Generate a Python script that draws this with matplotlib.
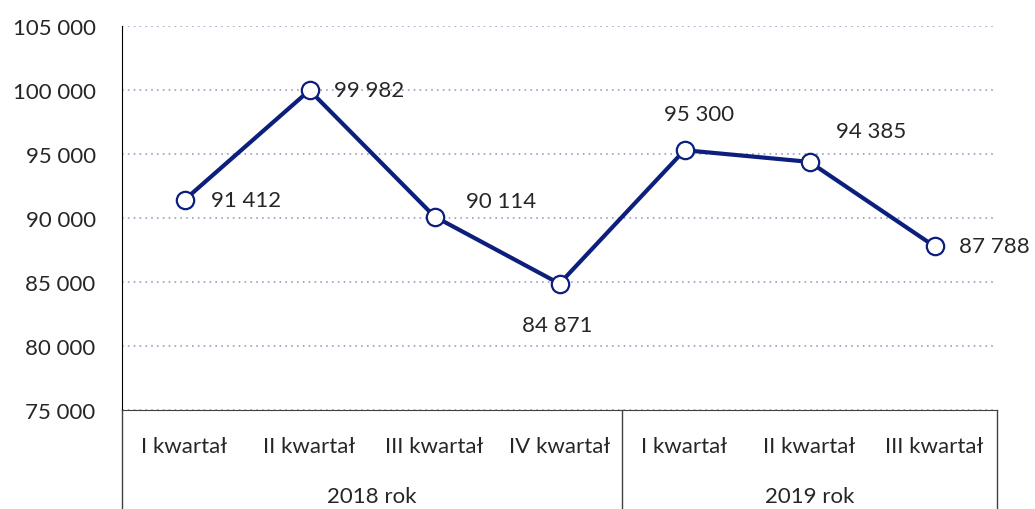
import matplotlib.pyplot as plt
import numpy as np

plt.rcParams['font.family'] = ['Lato', 'DejaVu Sans']

kwartaly = ['I kwartał', 'II kwartał', 'III kwartał', 'IV kwartał',
            'I kwartał', 'II kwartał', 'III kwartał']
lata = ['2018 rok', '2019 rok']
wartosci = [91412, 99982, 90114, 84871, 95300, 94385, 87788]
# przesuniecie etykiet (piksele)
offsety = [(62, 0), (60, 0), (67, 16), (-2, -41), (15, 36), (62, 31), (60, 0)]

granat = '#0c1f7c'
tekst = '#262626'

def fmt(v):
    return '{:,}'.format(v).replace(',', '\u00a0')

fig = plt.figure(figsize=(10.35, 5.10), dpi=100)
ax = fig.add_axes([0.1179, 0.1941, 0.8454, 0.7529])

x = np.arange(len(wartosci))
ax.plot(x, wartosci, color=granat, lw=3, marker='o', ms=12.5,
        mfc='white', mec=granat, mew=1.6, zorder=3, clip_on=False)

for xi, v, (dx, dy) in zip(x, wartosci, offsety):
    ax.annotate(fmt(v), (xi, v), xytext=(dx, dy), textcoords='offset pixels',
                ha='center', va='center', fontsize=16, color=tekst)

ax.set_xlim(-0.5, 6.5)
ax.set_ylim(75000, 105000)
yt = np.arange(75000, 105001, 5000)
ax.set_yticks(yt)
ax.set_yticklabels([fmt(v) for v in yt], fontsize=16, color=tekst)
ax.tick_params(axis='y', length=0, pad=19)
ax.set_xticks([])
ax.yaxis.grid(True, linestyle=(0, (1, 2.5)), color='#9c9ccc', lw=1.2)
ax.set_axisbelow(True)

for s in ['top', 'right']:
    ax.spines[s].set_visible(False)
ax.spines['left'].set_color('#000000')
ax.spines['bottom'].set_color('#404040')

# tabela kategorii pod osia
tr = ax.get_xaxis_transform()
for xv in [-0.5, 3.5, 6.5]:
    ax.plot([xv, xv], [0, -0.27], transform=tr, color='#404040', lw=1,
            clip_on=False)
for xi, k in zip(x, kwartaly):
    ax.text(xi, -0.094, k, transform=tr, ha='center', va='center',
            fontsize=16, color=tekst)
ax.text(1.5, -0.224, lata[0], transform=tr, ha='center', va='center',
        fontsize=16, color=tekst)
ax.text(5.0, -0.224, lata[1], transform=tr, ha='center', va='center',
        fontsize=16, color=tekst)

fig.savefig('out.png', dpi=100)
